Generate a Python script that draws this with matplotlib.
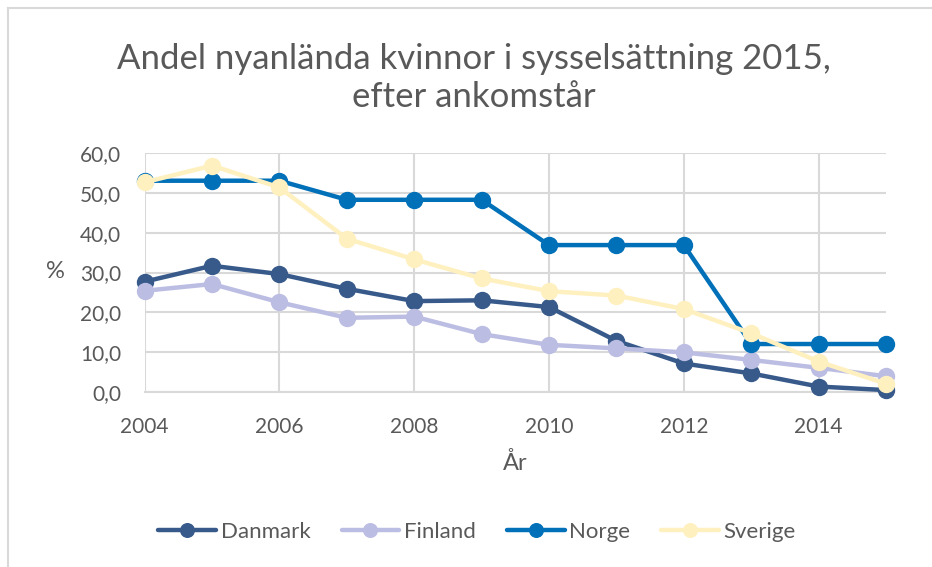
import matplotlib
matplotlib.use("Agg")
import matplotlib.pyplot as plt
from matplotlib.lines import Line2D

years = [2004, 2005, 2006, 2007, 2008, 2009, 2010, 2011, 2012, 2013, 2014, 2015]
danmark = [27.7, 31.7, 29.6, 25.9, 22.8, 23.0, 21.3, 12.8, 7.1, 4.6, 1.3, 0.4]
finland = [25.4, 27.1, 22.5, 18.6, 18.9, 14.5, 11.8, 10.9, 9.9, 8.0, 6.0, 3.9]
norge = [53.1, 53.1, 53.1, 48.3, 48.3, 48.3, 36.9, 36.9, 36.9, 12.0, 12.0, 12.0]
sverige = [52.7, 56.9, 51.4, 38.5, 33.3, 28.5, 25.3, 24.2, 20.8, 14.7, 7.6, 2.0]
series_names = ["Danmark", "Finland", "Norge", "Sverige"]
colors = ["#375A8B", "#BCBDE3", "#0070B8", "#FFF0C0"]
x_ticks = [2004, 2006, 2008, 2010, 2012, 2014]
y_ticks = [0, 10, 20, 30, 40, 50, 60]

plt.rcParams['font.family'] = ['Lato', 'DejaVu Sans']
txt = "#595959"
grid = "#D9D9D9"

W, H = 932, 567
fig = plt.figure(figsize=(W / 100, H / 100), dpi=100)
ax = fig.add_axes([144.7 / W, 1 - 391.7 / H, (886 - 144.7) / W, (391.7 - 153.3) / H])

for name, vals, c in zip(series_names, [danmark, finland, norge, sverige], colors):
    ax.plot(years, vals, color=c, lw=3.2, marker='o', ms=11.5, label=name,
            solid_capstyle='round', clip_on=False, zorder=3)

ax.set_xlim(2004, 2015)
ax.set_ylim(0, 60)
ax.set_xticks(x_ticks)
ax.set_yticks(y_ticks)
ax.set_yticklabels([f"{v:.1f}".replace('.', ',') for v in y_ticks])
ax.tick_params(axis='both', length=0, labelsize=15, colors=txt)
ax.tick_params(axis='x', pad=18)
ax.tick_params(axis='y', pad=17)
ax.grid(True, color=grid, lw=1.5, zorder=0)
for s in ['top', 'right', 'left']:
    ax.spines[s].set_visible(False)
ax.spines['bottom'].set_color(grid)
ax.spines['bottom'].set_linewidth(1.5)
ax.set_axisbelow(True)

fig.text(55 / W, 1 - 272 / H, "%", ha='center', va='center', fontsize=17, color=txt)
fig.text(515 / W, 1 - 463 / H, "År", ha='center', va='center', fontsize=17, color=txt)
fig.text(474 / W, 1 - 78 / H, "Andel nyanlända kvinnor i sysselsättning 2015,\nefter ankomstår",
         ha='center', va='center', fontsize=25, color=txt, linespacing=1.25)

leg = fig.legend(loc='center', bbox_to_anchor=(477 / W, 1 - 532 / H), ncol=4, frameon=False,
                 fontsize=16, handlelength=2.6, handletextpad=0.2, columnspacing=1.4,
                 labelcolor=txt, markerscale=0.85)

# chart frame
fig.add_artist(Line2D([7.5 / W, 1.0], [1 - 7.5 / H, 1 - 7.5 / H], color=grid, lw=1.5))
fig.add_artist(Line2D([7.5 / W, 7.5 / W], [0, 1 - 7.5 / H], color=grid, lw=1.5))

fig.savefig("out.png", dpi=100)
